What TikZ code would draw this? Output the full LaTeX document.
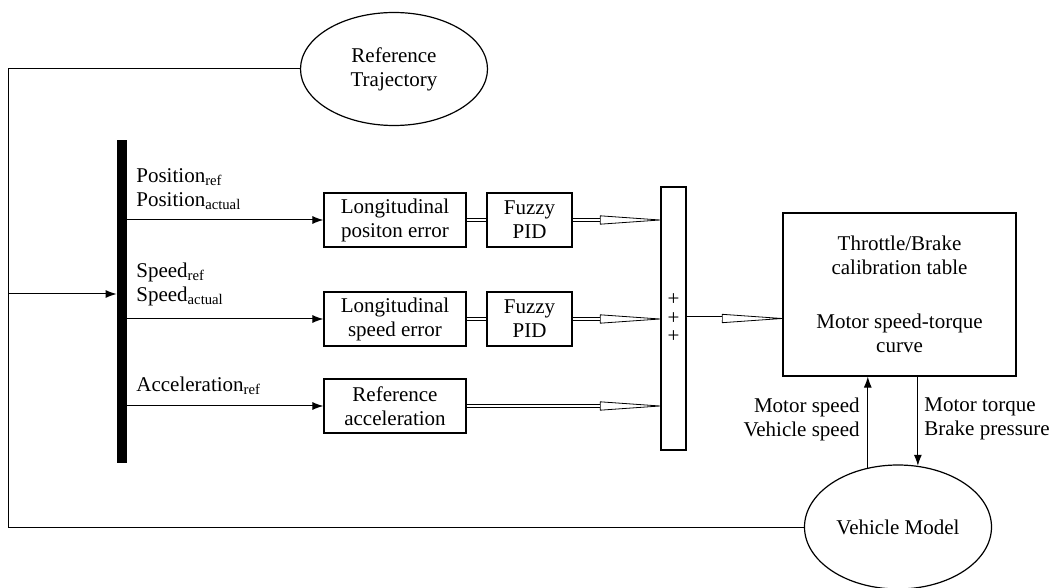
\documentclass[tikz,border=0pt]{standalone}
\usepackage{fontspec}
\setmainfont{Liberation Serif}
\usetikzlibrary{shapes.geometric,arrows.meta,positioning}

\begin{document}
\begin{tikzpicture}[x=0.5pt, y=-0.5pt, every node/.style={font=\fontsize{10.5}{12}\selectfont}, align=center]
  \tikzset{block/.style={rectangle, draw=black, line width=0.6pt, inner sep=0pt, align=center}, oval/.style={ellipse, draw=black, line width=0.6pt, inner sep=0pt, align=center}, lbl/.style={inner sep=0pt, align=left}, arr/.style={-{Latex[length=5.5pt, width=4pt]}, line width=0.5pt}, dbl/.style={double, double distance=1.2pt, line width=0.4pt}, fat/.style={line width=0.4pt, -{Triangle[open, round, length=33pt, width=4.5pt]}, postaction={draw, -, dbl, shorten >=30pt}}}
  \useasboundingbox (0,0) rectangle (1056,588);
  \node[oval, minimum width=93.5pt, minimum height=56.5pt] (traj) at (394,69) {Reference\\Trajectory};
  \node[fill=black, inner sep=0pt, minimum width=5pt, minimum height=161.5pt] (bar) at (122,301.5) {};
  \node[lbl, anchor=west] (posin) at (136,189) {Position\textsubscript{ref}\\Position\textsubscript{actual}};
  \node[lbl, anchor=west] (spdin) at (136,284) {Speed\textsubscript{ref}\\Speed\textsubscript{actual}};
  \node[lbl, anchor=west] (accin) at (136,386) {Acceleration\textsubscript{ref}};
  \node[block, minimum width=71pt, minimum height=27pt] (poserr) at (395,220) {Longitudinal\\positon error};
  \node[block, minimum width=42.5pt, minimum height=27pt] (fuzzA) at (529.5,220) {Fuzzy\\PID};
  \node[block, minimum width=71pt, minimum height=27pt] (spderr) at (395,319) {Longitudinal\\speed error};
  \node[block, minimum width=42.5pt, minimum height=27pt] (fuzzB) at (529.5,319) {Fuzzy\\PID};
  \node[block, minimum width=71pt, minimum height=27pt] (refacc) at (395,406) {Reference\\acceleration};
  \node[block, minimum width=12.5pt, minimum height=131.5pt, font=\fontsize{10.5}{9.25}\selectfont] (sum) at (673.5,318.5) {+\\+\\+};
  \node[block, minimum width=116.5pt, minimum height=81.5pt] (calib) at (899.5,294.5) {Throttle/Brake\\calibration table\\[15pt]Motor speed-torque\\curve};
  \node[oval, minimum width=93.5pt, minimum height=62pt] (veh) at (898,527) {Vehicle Model};
  \node[lbl, align=right, anchor=east] (fbin) at (860,419) {Motor speed\\Vehicle speed};
  \node[lbl, anchor=west] (fbout) at (924,419) {Motor torque\\Brake pressure};
  \coordinate (corner) at (8,527);
  \coordinate (tap) at (8,294);
  % feedback loop and inputs
  \draw[line width=0.5pt] (traj.west) -| (corner) -- (veh.west);
  \draw[arr] (tap) -- (tap -| bar.west);
  \draw[arr] (bar.east |- poserr) -- (poserr);
  \draw[arr] (bar.east |- spderr) -- (spderr);
  \draw[arr] (bar.east |- refacc) -- (refacc);
  % controllers to summing bar
  \draw[dbl] (poserr) -- (fuzzA);
  \draw[dbl] (spderr) -- (fuzzB);
  \draw[fat] (fuzzA) -- (sum.west |- fuzzA);
  \draw[fat] (fuzzB) -- (sum.west |- fuzzB);
  \draw[fat] (refacc) -- (sum.west |- refacc);
  \draw[fat] (sum) -- (sum -| calib.west);
  % vehicle model
  \draw[arr] (veh.117) -- (veh.117 |- calib.south);
  \draw[arr] (calib.south -| veh.72) -- (veh.72);
\end{tikzpicture}
\end{document}
